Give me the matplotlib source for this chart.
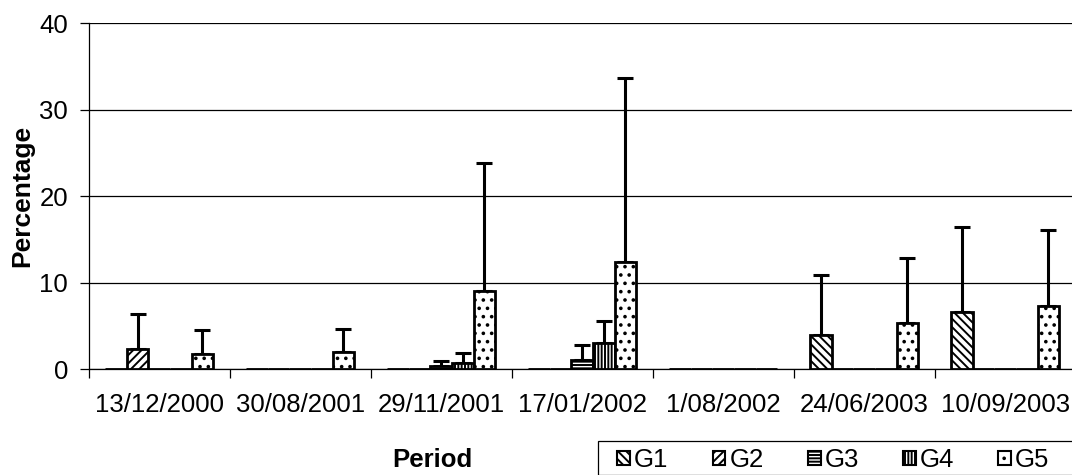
import matplotlib.pyplot as plt
import numpy as np
from matplotlib.patches import Patch, Rectangle

plt.rcParams['font.family'] = ['Liberation Sans', 'DejaVu Sans']
plt.rcParams['hatch.linewidth'] = 1.4

periods = ['13/12/2000', '30/08/2001', '29/11/2001', '17/01/2002',
           '1/08/2002', '24/06/2003', '10/09/2003']
groups = ['G1', 'G2', 'G3', 'G4', 'G5']

g1 = [0, 0, 0, 0, 0, 3.95, 6.65]
g2 = [2.4, 0, 0, 0, 0, 0, 0]
g3 = [0, 0, 0.4, 1.1, 0, 0, 0]
g4 = [0, 0, 0.7, 3.0, 0, 0, 0]
g5 = [1.8, 2.05, 9.1, 12.35, 0, 5.35, 7.35]

# upper error amounts (only drawn where > 0)
g1_err = [0, 0, 0, 0, 0, 6.95, 9.85]
g2_err = [4.0, 0, 0, 0, 0, 0, 0]
g3_err = [0, 0, 0.55, 1.7, 0, 0, 0]
g4_err = [0, 0, 1.2, 2.6, 0, 0, 0]
g5_err = [2.75, 2.6, 14.7, 21.35, 0, 7.55, 8.75]

values = [g1, g2, g3, g4, g5]
errors = [g1_err, g2_err, g3_err, g4_err, g5_err]
hatches = ['\\\\\\\\', '////', '-----', '|||||', '..']

fig = plt.figure(figsize=(10.72, 4.75), dpi=100)
ax = fig.add_axes([0.0827, 0.2225, 0.9208, 0.7285])

x = np.arange(len(periods))
width = 0.153

for i, (vals, errs, h) in enumerate(zip(values, errors, hatches)):
    pos = x + (i - 2) * width
    ax.bar(pos, vals, width, color='white', edgecolor='black', linewidth=2.0,
           hatch=h, zorder=3)
    vals = np.array(vals)
    errs = np.array(errs)
    m = errs > 0
    ax.errorbar(pos[m], vals[m], yerr=[np.zeros(m.sum()), errs[m]], fmt='none',
                ecolor='black', elinewidth=2.2, capsize=5.6, capthick=2.2, zorder=2)

ax.set_xlim(-0.5, len(periods) - 0.5)
ax.set_ylim(0, 40)
ax.set_yticks([0, 10, 20, 30, 40])
ax.yaxis.grid(True, color='black', linewidth=0.9)
ax.set_axisbelow(True)

for s in ['top', 'right']:
    ax.spines[s].set_visible(False)
ax.spines['left'].set_linewidth(0.9)
ax.spines['bottom'].set_linewidth(0.9)

ax.set_xticks(np.arange(len(periods) + 1) - 0.5)
ax.set_xticklabels([])
ax.set_xticks(x, minor=True)
ax.set_xticklabels(periods, minor=True)
ax.tick_params(axis='x', which='major', direction='out', length=6.5, width=0.9)
ax.tick_params(axis='x', which='minor', length=0, pad=17, labelsize=18.5)
ax.tick_params(axis='y', direction='out', length=6.3, width=0.9, pad=8.6, labelsize=18.5)

fig.text(22 / 1072, 1 - 196.3 / 475, 'Percentage', rotation=90, ha='center',
         va='center', fontsize=19, fontweight='bold')
fig.text(432 / 1072, 1 - 467 / 475, 'Period', ha='center', va='baseline',
         fontsize=18.5, fontweight='bold')

# legend box runs off the bottom/right edge like in the original
fig.patches.append(Rectangle((598.3 / 1072, 0), 1, 1 - 440.7 / 475,
                             transform=fig.transFigure, facecolor='white',
                             edgecolor='black', linewidth=0.9))
handles = [Patch(facecolor='white', edgecolor='black', hatch=h, linewidth=1.5, label=g)
           for g, h in zip(groups, hatches)]
leg = fig.legend(handles=handles, loc='upper left',
                 bbox_to_anchor=(617.3 / 1072, 1 - 448 / 475), ncol=5,
                 fontsize=18.5, frameon=False, handlelength=0.5,
                 handleheight=0.5, handletextpad=0.15, columnspacing=1.72,
                 borderpad=0, borderaxespad=0)

fig.savefig('out.png', dpi=100)
